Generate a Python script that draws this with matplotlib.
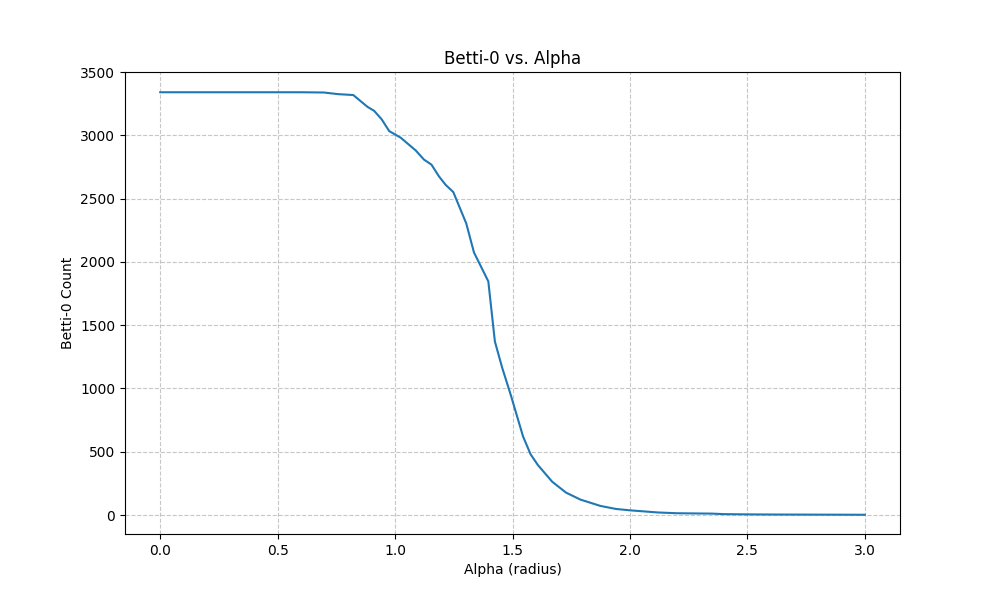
import matplotlib
matplotlib.use("Agg")
import matplotlib.pyplot as plt

alpha = [0.0, 0.3, 0.6, 0.697, 0.758, 0.822, 0.883, 0.911, 0.943, 0.975, 1.024, 1.088, 1.123, 1.155,
         1.187, 1.215, 1.248, 1.303, 1.336, 1.397, 1.425, 1.456, 1.492, 1.545, 1.577, 1.608,
         1.669, 1.728, 1.789, 1.874, 1.94, 2.0, 2.05, 2.12, 2.2, 2.3, 2.35, 2.4, 2.5, 2.6, 2.8, 3.0]
betti0 = [3340, 3340, 3340, 3338, 3325, 3318, 3224, 3193, 3126, 3033, 2981, 2880, 2808, 2768,
          2675, 2609, 2551, 2304, 2074, 1846, 1371, 1164, 952, 620, 480, 395,
          263, 177, 122, 72, 48, 37, 30, 20, 14, 12, 11, 7, 5, 4, 3, 2]

fig, ax = plt.subplots(figsize=(10, 6), dpi=100)
ax.plot(alpha, betti0, color="#1f77b4", linewidth=1.5)
ax.set_title("Betti-0 vs. Alpha")
ax.set_xlabel("Alpha (radius)")
ax.set_ylabel("Betti-0 Count")
ax.set_ylim(-150, 3500)
ax.grid(True, linestyle="--", alpha=0.7)
fig.savefig("out.png")
